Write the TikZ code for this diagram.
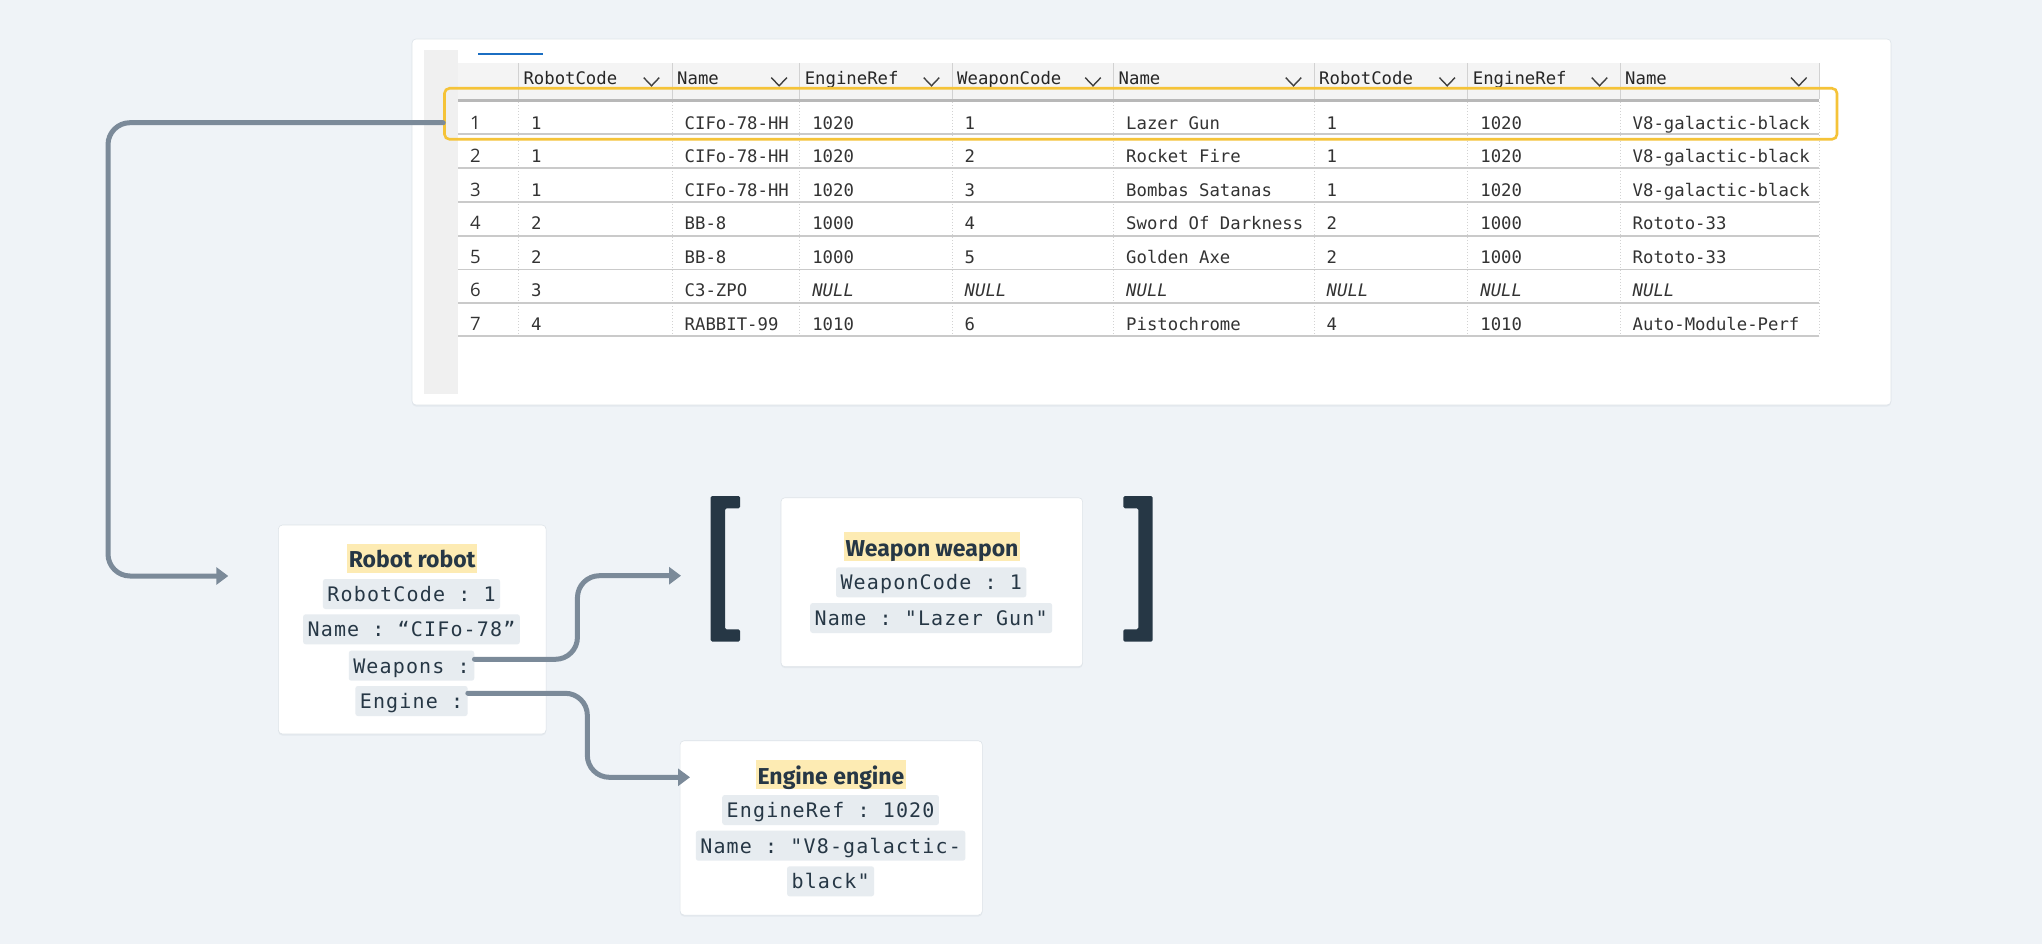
\documentclass[tikz,border=0pt]{standalone}
\usepackage{fontspec}
\setmainfont{Fira Sans}
\setmonofont[LetterSpace=5.8]{DejaVu Sans Mono}
\newfontfamily\tabfont{DejaVu Sans Mono}
\newfontfamily\idxfont{Open Sans}
\newfontfamily\titlefont{Fira Sans}
\usetikzlibrary{arrows.meta,shadows}
\definecolor{bgc}{HTML}{EFF3F7}
\definecolor{ink}{HTML}{263745}
\definecolor{hl}{HTML}{FDEBB3}
\definecolor{keybg}{HTML}{E7ECF0}
\definecolor{connc}{HTML}{7B8A99}
\definecolor{selc}{HTML}{F5C338}
\definecolor{tabink}{HTML}{333333}
\definecolor{hdrbg}{HTML}{F4F4F4}
\definecolor{stripc}{HTML}{F0F0F0}
\definecolor{rowline}{HTML}{CACACA}
\definecolor{vsepc}{HTML}{D2D2D2}
\definecolor{thickc}{HTML}{B8B8B8}
\definecolor{tabblue}{HTML}{1B6EC2}
\definecolor{shadowc}{HTML}{DDE3E8}
\newcommand\nul{\textit{NULL}}
\begin{document}
\begin{tikzpicture}[x=1pt,y=-1pt,
  card/.style={fill=white, rounded corners=4pt, draw=shadowc, line width=0.6pt, inner sep=0pt,
    drop shadow={shadow xshift=0pt, shadow yshift=-1.5pt, opacity=0.6, fill=shadowc}},
  titlebox/.style={fill=hl, font=\titlefont\bfseries\fontsize{23}{26}\selectfont, text=ink,
    inner xsep=1.5pt, inner ysep=0pt, text height=24pt, text depth=5pt, anchor=base},
  keybox/.style={fill=keybg, rounded corners=2.5pt, font=\ttfamily\fontsize{20}{24}\selectfont,
    text=ink, inner xsep=4.5pt, inner ysep=0pt, minimum height=30pt, text height=14.6pt, text depth=0pt},
  cell/.style={anchor=base west, inner sep=0pt, font=\tabfont\fontsize{17.3}{20}\selectfont, text=tabink},
  hcell/.style={anchor=base west, inner sep=0pt, font=\tabfont\fontsize{17.3}{20}\selectfont, text=black!85},
  idx/.style={anchor=base west, inner sep=0pt, font=\idxfont\fontsize{18.5}{20}\selectfont, text=tabink},
  chev/.style={draw=black!75, line width=1.4pt, line join=miter},
  connector/.style={draw=connc, line width=5pt, rounded corners=22pt, line cap=round,
    -{Triangle[length=12pt,width=17pt]}},
  bracket/.style={fill=ink, rounded corners=1.5pt},
]
\useasboundingbox (0,0) rectangle (2042,944);
\fill[bgc] (0,0) rectangle (2042,944);

% ---------- table card ----------
\node[card, minimum width=1479pt, minimum height=366pt] (tab) at (1151.5,222) {};
\fill[stripc] (423.5,50) rectangle (458,394);
\fill[tabblue] (478,52.7) rectangle (543.3,55.3);
\fill[hdrbg] (458,63.3) rectangle (1819.3,99.3);
\fill[thickc] (458,99.3) rectangle (1819.3,101.9);
\foreach \s in {518.3,672,799.6,952,1113.5,1314,1467.7,1620,1819.3}{
  \draw[vsepc, line width=1pt] (\s,63.3) -- (\s,99.3);
  \draw[vsepc, line width=1pt, dotted] (\s,102) -- (\s,336);
}
\foreach \yy in {134.3,168.3,202,235.7,269.3,302.7,336}{
  \draw[rowline, line width=1.6pt] (458,\yy) -- (1819.3,\yy);
}
% header
\foreach \hx/\hname [count=\k] in {523.3/RobotCode,677/Name,804.6/EngineRef,957/WeaponCode,1118.5/Name,1319/RobotCode,1472.7/EngineRef,1625/Name}{
  \node[hcell] (h\k) at (\hx,85) {\hname};
}
\foreach \cx in {651.5,779.1,931.5,1093,1293.5,1447.2,1599.5,1798.8}{
  \draw[chev] (\cx-7.8,77.6) -- (\cx,85.8) -- (\cx+7.8,77.6);
}
% body
\foreach \r/\va/\vb/\vc/\vd/\ve/\vf/\vg/\vh in {
  1/1/CIFo-78-HH/1020/1/Lazer Gun/1/1020/V8-galactic-black,
  2/1/CIFo-78-HH/1020/2/Rocket Fire/1/1020/V8-galactic-black,
  3/1/CIFo-78-HH/1020/3/Bombas Satanas/1/1020/V8-galactic-black,
  4/2/BB-8/1000/4/Sword Of Darkness/2/1000/Rototo-33,
  5/2/BB-8/1000/5/Golden Axe/2/1000/Rototo-33,
  6/3/C3-ZPO/\nul/\nul/\nul/\nul/\nul/\nul,
  7/4/RABBIT-99/1010/6/Pistochrome/4/1010/Auto-Module-Perf}{
  \pgfmathsetmacro\yb{129.2+33.5*(\r-1)}
  \node[idx] (i\r) at (470,\yb) {\r};
  \node[cell] (t\r-1) at (530.8,\yb) {\va};
  \node[cell] (t\r-2) at (684.5,\yb) {\vb};
  \node[cell] (t\r-3) at (812.1,\yb) {\vc};
  \node[cell] (t\r-4) at (964.5,\yb) {\vd};
  \node[cell] (t\r-5) at (1126,\yb) {\ve};
  \node[cell] (t\r-6) at (1326.5,\yb) {\vf};
  \node[cell] (t\r-7) at (1480.2,\yb) {\vg};
  \node[cell] (t\r-8) at (1632.5,\yb) {\vh};
}
% selection box
\node[draw=selc, line width=2.6pt, rounded corners=5pt, minimum width=1392.5pt, minimum height=51pt, inner sep=0pt] (sel) at (1140.75,113.8) {};

% ---------- robot card ----------
\node[card, minimum width=267.7pt, minimum height=209pt] (robot) at (412.2,629.5) {};
\node[titlebox] (rt) at (412.2,567.5) {Robot robot};
\node[keybox] (rk1) at (411.5,594) {RobotCode : 1};
\node[keybox] (rk2) at (411.5,629.3) {Name : “CIFo-78”};
\node[keybox] (rk3) at (411.5,665.7) {Weapons :};
\node[keybox] (rk4) at (411.5,701) {Engine :};

% ---------- weapon card ----------
\node[card, minimum width=301.7pt, minimum height=169pt] (weapon) at (931.8,582.2) {};
\node[titlebox] (wt) at (932,556) {Weapon weapon};
\node[keybox] (wk1) at (931.2,582.3) {WeaponCode : 1};
\node[keybox] (wk2) at (931.2,618) {Name : "Lazer Gun"};

% brackets
\fill[bracket] (740,496) -- (710.7,496) -- (710.7,641.7) -- (740,641.7) -- (740,629.3)
  -- (725,629.3) -- (725,508.3) -- (740,508.3) -- cycle;
\fill[bracket] (1123.3,496) -- (1152.7,496) -- (1152.7,641.7) -- (1123.3,641.7) -- (1123.3,629.3)
  -- (1138.3,629.3) -- (1138.3,508.3) -- (1123.3,508.3) -- cycle;

% ---------- engine card ----------
\node[card, minimum width=302.3pt, minimum height=174.3pt] (engine) at (831.2,827.9) {};
\node[titlebox] (et) at (831,784) {Engine engine};
\node[keybox] (ek1) at (830.6,810) {EngineRef : 1020};
\node[keybox] (ek2) at (830.6,845.7) {Name : "V8-galactic-};
\node[keybox] (ek3) at (830.6,881.3) {black"};

% ---------- connectors ----------
\coordinate (rarrow) at (228.3,576);
\coordinate (warrow) at (681,575.7);
\coordinate (earrow) at (690,777.3);
\draw[connector] ([yshift=-8.9pt]sel.west) -- ++(-335.2,0) |- (rarrow);
\draw[connector] ([yshift=6.4pt]rk3.east) -- ++(103,0) |- (warrow);
\draw[connector] ([yshift=7.7pt]rk4.east) -- ++(119.5,0) |- (earrow);
\end{tikzpicture}
\end{document}
